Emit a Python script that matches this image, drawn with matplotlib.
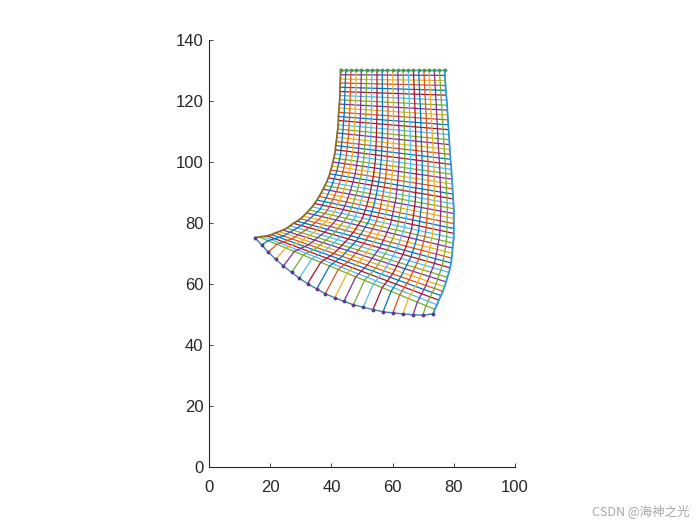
import numpy as np
import matplotlib
matplotlib.use('Agg')
import matplotlib.pyplot as plt

# matlab default colour order
colors = ['#0072BD', '#D95319', '#EDB120', '#7E2F8E', '#77AC30', '#4DBEEE', '#A2142F']

x_ticks = [0, 20, 40, 60, 80, 100]
y_ticks = [0, 20, 40, 60, 80, 100, 120, 140]

# outer edges of the mesh
bottom_x = [15.0, 17.2, 19.4, 21.8, 24.3, 27.0, 29.5, 32.2, 35.2, 38.0, 41.1,
            44.1, 47.2, 50.4, 53.6, 56.9, 60.1, 63.4, 66.7, 69.9, 73.2]
bottom_y = [75.2, 72.8, 70.4, 68.1, 65.9, 63.8, 61.9, 60.1, 58.4, 56.8, 55.5,
            54.3, 53.2, 52.4, 51.6, 50.9, 50.5, 50.2, 49.9, 49.8, 50.2]
top_x = [43.0, 44.7, 46.4, 48.1, 49.8, 51.5, 53.2, 54.9, 56.6, 58.3, 60.0,
         61.7, 63.4, 65.1, 66.8, 68.5, 70.2, 71.9, 73.6, 75.3, 77.0]
top_y = [130.3] * 21

left_x = [15.0, 16.4, 17.7, 19.0, 20.4, 21.6, 22.9, 24.2, 25.4, 26.5, 27.6, 28.8, 29.9,
          30.9, 31.9, 32.8, 33.7, 34.5, 35.3, 36.0, 36.7, 37.3, 37.9, 38.5, 39.0, 39.5,
          39.8, 40.2, 40.5, 40.8, 41.1, 41.3, 41.4, 41.6, 41.8, 41.9, 42.1, 42.2, 42.3,
          42.3, 42.4, 42.5, 42.6, 42.7, 42.8, 42.8, 42.8, 42.9, 42.9, 43.0, 43.0]
left_y = [75.2, 75.4, 75.6, 75.8, 76.2, 76.7, 77.2, 77.7, 78.3, 79.1, 79.9, 80.6, 81.4,
          82.3, 83.3, 84.3, 85.3, 86.4, 87.5, 88.7, 89.9, 91.1, 92.3, 93.5, 94.8, 96.1,
          97.4, 98.7, 100.0, 101.3, 102.7, 104.0, 105.4, 106.7, 108.1, 109.5, 110.8, 112.2, 113.6,
          114.9, 116.3, 117.7, 119.0, 120.4, 121.8, 123.1, 124.5, 125.9, 127.2, 128.6, 130.3]
right_x = [73.2, 73.8, 74.5, 75.1, 75.8, 76.4, 77.0, 77.5, 77.9, 78.4, 78.8, 79.1, 79.3,
           79.5, 79.6, 79.8, 80.0, 80.0, 80.0, 80.0, 80.0, 80.0, 80.0, 79.9, 79.8, 79.7,
           79.6, 79.5, 79.4, 79.3, 79.2, 79.1, 78.9, 78.8, 78.7, 78.6, 78.5, 78.4, 78.3,
           78.2, 78.1, 78.0, 77.9, 77.8, 77.7, 77.5, 77.4, 77.3, 77.2, 77.1, 77.0]
right_y = [50.2, 51.7, 53.2, 54.7, 56.2, 57.6, 59.1, 60.7, 62.2, 63.8, 65.3, 66.9, 68.5,
           70.1, 71.8, 73.4, 75.0, 76.6, 78.2, 79.8, 81.5, 83.1, 84.7, 86.3, 87.9, 89.5,
           91.2, 92.8, 94.4, 96.0, 97.6, 99.2, 100.9, 102.5, 104.1, 105.7, 107.3, 109.0, 110.6,
           112.2, 113.8, 115.4, 117.0, 118.6, 120.3, 121.9, 123.5, 125.1, 126.7, 128.4, 130.3]

# inner columns where they cross a few of the rows
x_row1 = [19.3, 22.1, 25.0, 27.9, 30.8, 33.6, 36.5, 39.4, 42.2, 45.1, 48.0, 50.8, 53.7, 56.6, 59.5, 62.3, 65.2, 68.1, 70.9]
y_row1 = [74.2, 73.0, 71.8, 70.7, 69.5, 68.3, 67.1, 65.9, 64.7, 63.5, 62.4, 61.2, 60.0, 58.8, 57.6, 56.4, 55.3, 54.1, 52.9]
x_row5 = [24.3, 27.1, 29.8, 32.6, 35.3, 38.0, 40.8, 43.5, 46.3, 49.0, 51.7, 54.5, 57.2, 60.0, 62.7, 65.4, 68.2, 70.9, 73.7]
y_row5 = [75.7, 74.8, 73.8, 72.9, 71.9, 71.0, 70.0, 69.1, 68.1, 67.2, 66.2, 65.2, 64.3, 63.3, 62.4, 61.4, 60.5, 59.5, 58.6]
x_row10 = [30.2, 32.7, 35.3, 37.8, 40.4, 43.0, 45.5, 48.1, 50.6, 53.2, 55.8, 58.3, 60.9, 63.4, 66.0, 68.6, 71.1, 73.7, 76.2]
y_row10 = [79.2, 78.4, 77.7, 77.0, 76.2, 75.5, 74.8, 74.1, 73.3, 72.6, 71.9, 71.1, 70.4, 69.7, 68.9, 68.2, 67.5, 66.8, 66.0]
x_row13 = [33.3, 35.8, 38.2, 40.6, 43.1, 45.5, 47.9, 50.3, 52.8, 55.2, 57.6, 60.1, 62.5, 64.9, 67.4, 69.8, 72.2, 74.6, 77.1]
y_row13 = [81.7, 81.1, 80.5, 79.9, 79.3, 78.6, 78.0, 77.4, 76.8, 76.2, 75.6, 75.0, 74.4, 73.8, 73.2, 72.5, 71.9, 71.3, 70.7]
x_row16 = [36.3, 38.6, 40.9, 43.2, 45.5, 47.8, 50.1, 52.4, 54.7, 57.0, 59.3, 61.6, 63.9, 66.2, 68.5, 70.8, 73.1, 75.4, 77.7]
y_row16 = [84.5, 84.0, 83.5, 83.0, 82.5, 82.0, 81.5, 81.0, 80.5, 80.0, 79.5, 79.0, 78.5, 78.0, 77.5, 77.0, 76.5, 76.0, 75.5]
x_row19 = [38.3, 40.5, 42.7, 44.9, 47.1, 49.3, 51.5, 53.7, 55.9, 58.1, 60.2, 62.4, 64.6, 66.8, 69.0, 71.2, 73.4, 75.6, 77.8]
y_row19 = [88.2, 87.7, 87.3, 86.8, 86.4, 86.0, 85.5, 85.1, 84.6, 84.2, 83.8, 83.3, 82.9, 82.4, 82.0, 81.6, 81.1, 80.7, 80.2]
x_row22 = [40.0, 42.1, 44.2, 46.3, 48.4, 50.5, 52.6, 54.7, 56.8, 59.0, 61.1, 63.2, 65.3, 67.4, 69.5, 71.6, 73.7, 75.8, 77.9]
y_row22 = [91.9, 91.5, 91.2, 90.8, 90.4, 90.0, 89.6, 89.3, 88.9, 88.5, 88.1, 87.7, 87.4, 87.0, 86.6, 86.2, 85.8, 85.5, 85.1]
x_row26 = [41.8, 43.8, 45.8, 47.8, 49.8, 51.7, 53.7, 55.7, 57.7, 59.7, 61.7, 63.7, 65.7, 67.7, 69.7, 71.6, 73.6, 75.6, 77.6]
y_row26 = [97.1, 96.8, 96.5, 96.2, 95.9, 95.5, 95.2, 94.9, 94.6, 94.3, 94.0, 93.7, 93.4, 93.1, 92.8, 92.4, 92.1, 91.8, 91.5]
x_row30 = [43.0, 44.9, 46.8, 48.7, 50.6, 52.5, 54.4, 56.3, 58.2, 60.2, 62.1, 64.0, 65.9, 67.8, 69.7, 71.6, 73.5, 75.4, 77.3]
y_row30 = [102.4, 102.2, 101.9, 101.7, 101.4, 101.2, 100.9, 100.7, 100.4, 100.2, 99.9, 99.6, 99.4, 99.1, 98.9, 98.6, 98.4, 98.1, 97.9]
x_row35 = [43.7, 45.6, 47.4, 49.2, 51.1, 52.9, 54.7, 56.6, 58.4, 60.3, 62.1, 63.9, 65.8, 67.6, 69.4, 71.3, 73.1, 74.9, 76.8]
y_row35 = [109.3, 109.1, 108.9, 108.7, 108.6, 108.4, 108.2, 108.0, 107.8, 107.6, 107.4, 107.2, 107.0, 106.8, 106.7, 106.5, 106.3, 106.1, 105.9]
x_row40 = [44.2, 46.0, 47.8, 49.5, 51.3, 53.1, 54.9, 56.7, 58.5, 60.3, 62.0, 63.8, 65.6, 67.4, 69.2, 71.0, 72.7, 74.5, 76.3]
y_row40 = [116.2, 116.1, 115.9, 115.8, 115.7, 115.6, 115.4, 115.3, 115.2, 115.1, 114.9, 114.8, 114.7, 114.6, 114.4, 114.3, 114.2, 114.1, 113.9]

plt.rcParams['font.family'] = ['Liberation Sans', 'DejaVu Sans']

fig = plt.figure(figsize=(7, 5.25), dpi=100)
ax = fig.add_axes([209 / 700, 58 / 525, 306 / 700, 427 / 525])

lw = 0.9

# rows, first one starts at the 4th colour
for j in range(1, 50):
    ax.plot([left_x[j], right_x[j]], [left_y[j], right_y[j]],
            color=colors[(j + 3) % 7], lw=lw)

# inner columns
col_x = np.array([bottom_x[1:-1], x_row1, x_row5, x_row10, x_row13, x_row16, x_row19,
                  x_row22, x_row26, x_row30, x_row35, x_row40, top_x[1:-1]])
col_y = np.array([bottom_y[1:-1], y_row1, y_row5, y_row10, y_row13, y_row16, y_row19,
                  y_row22, y_row26, y_row30, y_row35, y_row40, top_y[1:-1]])
for i in range(col_x.shape[1]):
    ax.plot(col_x[:, i], col_y[:, i], color=colors[(i + 7) % 7], lw=lw)

# edges carry the dots
ax.plot(right_x, right_y, '-', color='#2a9ad4', lw=1.3)
ax.plot(left_x, left_y, '-', color='#8a6a2a', lw=1.3)
ax.plot(bottom_x, bottom_y, '-', color='#3f7fb5', lw=1.0)
ax.plot(bottom_x, bottom_y, '.', color='#5e3a82', ms=3.5)
ax.plot(top_x, top_y, '-', color='#3f8fa5', lw=1.0)
ax.plot(top_x, top_y, '.', color='#4f9a50', ms=3.5)

ax.set_xlim(0, 100)
ax.set_ylim(0, 140)
ax.set_xticks(x_ticks)
ax.set_yticks(y_ticks)
ax.tick_params(direction='in', length=3, width=0.6, labelsize=12, colors='#262626', pad=4)
ax.tick_params(axis='x', pad=9)
for side in ['top', 'right']:
    ax.spines[side].set_visible(False)
for side in ['left', 'bottom']:
    ax.spines[side].set_linewidth(0.8)
    ax.spines[side].set_color('#262626')

fig.text(690 / 700, 14 / 525, 'CSDN @海神之光', ha='right', va='center', fontsize=9,
         color='#a8a8a8', family=['Noto Sans CJK SC', 'DejaVu Sans'])

fig.savefig('out.png', dpi=100)
